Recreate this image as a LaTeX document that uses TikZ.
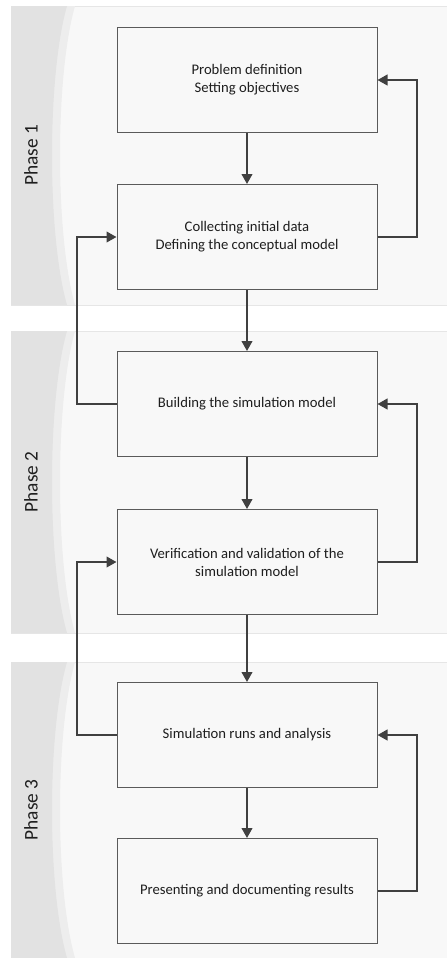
\documentclass[tikz,border=0pt]{standalone}
\usepackage{fontspec}
\setmainfont{Carlito}
\usetikzlibrary{arrows.meta}
\definecolor{panelfill}{HTML}{F8F8F8}
\definecolor{panelline}{HTML}{E6E6E6}
\definecolor{stripfill}{HTML}{E2E2E2}
\definecolor{stripedge}{HTML}{EDEDED}
\definecolor{boxline}{HTML}{5A5A5A}
\definecolor{arrowcol}{HTML}{404040}
\definecolor{textcol}{HTML}{1E1E1E}

\begin{document}
\begin{tikzpicture}[x=0.75pt,y=-0.75pt]
    \useasboundingbox (0,0) rectangle (447,958);

    % phase panels with the curved side strip
    \foreach \ptop/\pbot/\pname [count=\i] in {6/305/Phase 1, 331/633/Phase 2, 662/958/Phase 3}{
        \pgfmathsetmacro{\pmid}{(\ptop+\pbot)/2}
        \fill[panelfill] (11,\ptop) rectangle (447,\pbot);
        \draw[panelline] (11,\ptop) -- (447,\ptop);
        \draw[panelline] (11,\pbot) -- (447,\pbot);
        \fill[stripedge] (11,\ptop) -- (75,\ptop) .. controls (55,\ptop+70) and (55,\pbot-70) .. (75,\pbot) -- (11,\pbot) -- cycle;
        \fill[stripfill] (11,\ptop) -- (67,\ptop) .. controls (47,\ptop+70) and (47,\pbot-70) .. (67,\pbot) -- (11,\pbot) -- cycle;
        \node[rotate=90, text=textcol, inner sep=0pt] (P\i) at (31,\pmid) {\fontsize{14.5}{17}\selectfont\pname};
    }

    \begin{scope}[every node/.style={rectangle,draw=boxline,line width=0.75pt,fill=panelfill,
            minimum width=195pt,minimum height=78.75pt,align=center,text=textcol,
            font=\fontsize{11}{13.5}\selectfont}]
        \node (B1) at (247,80) {Problem definition\\Setting objectives};
        \node (B2) at (247,237) {Collecting initial data\\Defining the conceptual model};
        \node (B3) at (247,404) {Building the simulation model};
        \node (B4) at (247,562) {Verification and validation of the\\simulation model};
        \node (B5) at (247,735) {Simulation runs and analysis};
        \node (B6) at (247,891) {Presenting and documenting results};
    \end{scope}

    \begin{scope}[every path/.style={-{Triangle[length=7.5pt,width=8pt]},draw=arrowcol,line width=1.5pt}]
        % main flow
        \path (B1) edge (B2);
        \path (B2) edge (B3);
        \path (B3) edge (B4);
        \path (B4) edge (B5);
        \path (B5) edge (B6);
        % feedback on the right
        \draw (B2.east) -- ++(39,0) |- (B1.east);
        \draw (B4.east) -- ++(39,0) |- (B3.east);
        \draw (B6.east) -- ++(39,0) |- (B5.east);
        % feedback on the left
        \draw (B3.west) -- ++(-40,0) |- (B2.west);
        \draw (B5.west) -- ++(-40,0) |- (B4.west);
    \end{scope}
\end{tikzpicture}
\end{document}
